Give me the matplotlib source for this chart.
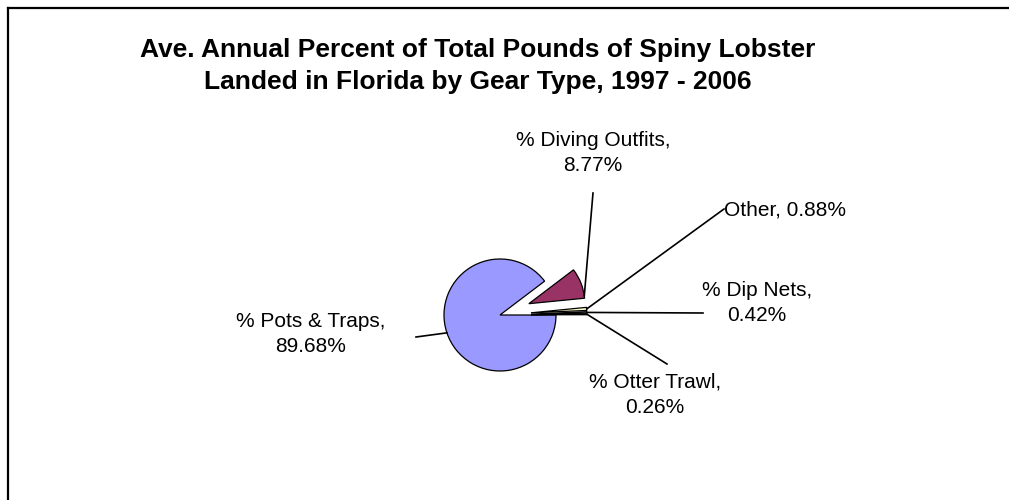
import matplotlib

matplotlib.use("Agg")

import matplotlib.pyplot as plt
import numpy as np

plt.rcParams["font.family"] = ["Liberation Sans", "DejaVu Sans"]

# Average annual share of spiny lobster landings by gear type
gear_types = ["% Pots & Traps", "% Diving Outfits", "Other", "% Dip Nets", "% Otter Trawl"]
percents = [89.68, 8.77, 0.88, 0.42, 0.26]
slice_colors = ["#9999FF", "#993366", "#FFFFCC", "#CCFFFF", "#660066"]

title = ("Ave. Annual Percent of Total Pounds of Spiny Lobster\n"
         "Landed in Florida by Gear Type, 1997 - 2006")

W, H = 1009, 500
CENTER = (500, H - 315)
RADIUS = 56
EXPLODE = [0, 31, 31, 31, 31]

# label layout in pixels from the top left: leader end, text anchor, alignment
label_layout = [
    ((416, 337), (311, 334), "center", "center"),
    ((593, 193), (593, 153), "center", "center"),
    ((724, 209), (724, 210), "left", "center"),
    ((703, 313), (757, 303), "center", "center"),
    ((667, 364), (655, 395), "center", "center"),
]
leader_angle_shift = [0, -0.42, 0, 0, 0]

fig = plt.figure(figsize=(W / 100, H / 100), dpi=100)
ax = fig.add_axes([0, 0, 1, 1])

wedges, _ = ax.pie(
    percents,
    colors=slice_colors,
    startangle=0,
    counterclock=False,
    explode=EXPLODE,
    center=CENTER,
    radius=RADIUS,
    wedgeprops=dict(edgecolor="black", linewidth=0.9),
)
ax.set_xlim(0, W)
ax.set_ylim(0, H)
ax.set_aspect("equal")
ax.axis("off")

for wedge, name, pct, (end, anchor, ha, va), shift in zip(
    wedges, gear_types, percents, label_layout, leader_angle_shift
):
    mid = np.deg2rad((wedge.theta1 + wedge.theta2) / 2)
    span = np.deg2rad(wedge.theta2 - wedge.theta1)
    ang = mid + shift * span
    cx, cy = wedge.center
    sx = cx + wedge.r * np.cos(ang)
    sy = cy + wedge.r * np.sin(ang)
    ax.plot([sx, end[0]], [sy, H - end[1]], color="black", lw=1.2)
    if name == "Other":
        text = f"{name}, {pct:.2f}%"
    else:
        text = f"{name},\n{pct:.2f}%"
    ax.text(anchor[0], H - anchor[1], text, ha=ha, va=va, fontsize=15,
            linespacing=1.4)

fig.text(478 / W, 1 - 66 / H, title, ha="center", va="center",
         fontsize=19, fontweight="bold", linespacing=1.42)

# chart frame: top and left edges
fig.add_artist(plt.Line2D([8 / W, 1], [1 - 8 / H, 1 - 8 / H], color="black", lw=1.6))
fig.add_artist(plt.Line2D([8 / W, 8 / W], [0, 1 - 8 / H], color="black", lw=1.6))

fig.savefig("out.png", dpi=100)
